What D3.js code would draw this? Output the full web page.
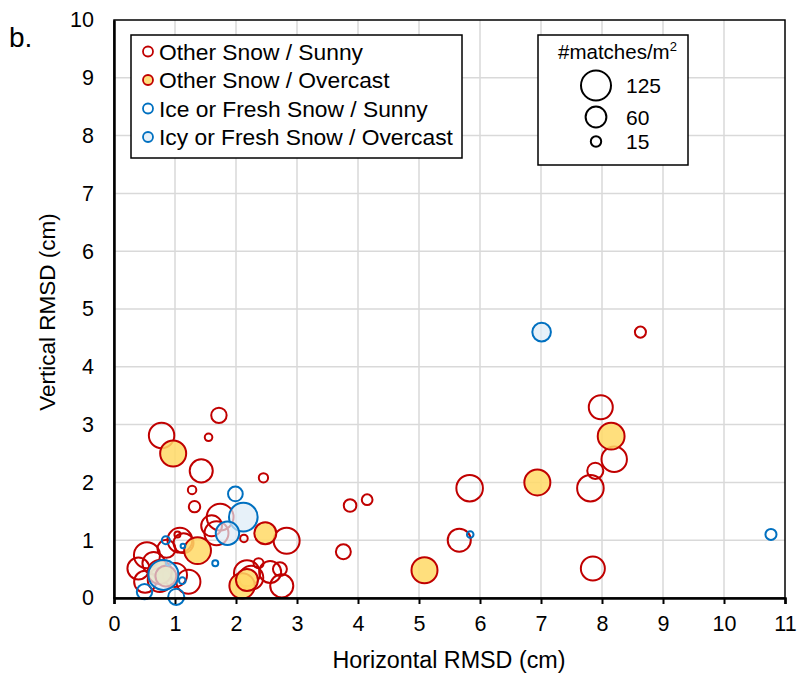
<!DOCTYPE html>
<html>
<head>
<meta charset="utf-8">
<script src="https://cdn.jsdelivr.net/npm/d3@7"></script>
<style>
  body { margin: 0; background: #fff; }
  text { font-family: "Liberation Sans", Arial, sans-serif; }
</style>
</head>
<body>
<script>
// [x, y, matches/m2]
const otherSunny = [
    [8.63, 4.60, 17], [7.98, 3.30, 80], [8.20, 2.40, 90], [7.89, 2.20, 36], [7.81, 1.90, 98],
    [5.83, 1.90, 98], [4.15, 1.70, 16], [3.87, 1.60, 22], [5.66, 1.00, 74], [3.76, 0.80, 31],
    [7.85, 0.51, 80], [1.72, 3.16, 33], [1.55, 2.78, 8], [0.78, 2.81, 90], [1.43, 2.20, 74],
    [2.45, 2.08, 12], [1.28, 1.87, 10], [1.32, 1.58, 18], [1.74, 1.40, 100], [1.68, 1.12, 80],
    [1.60, 1.25, 60], [2.13, 1.03, 8], [2.83, 0.99, 94], [1.04, 1.10, 5], [1.08, 1.00, 85],
    [0.86, 0.85, 45], [0.54, 0.74, 94], [0.40, 0.51, 67], [0.51, 0.28, 67], [0.75, 0.31, 80],
    [1.00, 0.40, 80], [1.22, 0.28, 80], [0.65, 0.60, 70], [2.18, 0.43, 94], [2.37, 0.60, 14],
    [2.56, 0.45, 67], [2.72, 0.50, 27], [2.75, 0.21, 74], [2.25, 0.35, 80], [1.14, 0.95, 55]
];
const otherOvercast = [
    [8.15, 2.80, 100], [6.94, 2.00, 94], [5.09, 0.48, 94], [0.97, 2.50, 94], [2.48, 1.12, 67],
    [1.37, 0.82, 100], [2.10, 0.21, 90], [2.18, 0.31, 67], [0.75, 0.45, 80], [0.85, 0.38, 60]
];
const iceSunny = [
    [10.77, 1.10, 17], [5.84, 1.10, 6], [1.99, 1.80, 30], [0.85, 1.00, 9], [1.13, 0.90, 3],
    [1.66, 0.60, 5], [1.12, 0.30, 6], [0.50, 0.11, 33], [1.02, 0.02, 36], [0.89, 0.60, 3]
];
const icyOvercast = [
    [7.01, 4.60, 48], [2.12, 1.40, 114], [1.86, 1.12, 76], [0.81, 0.40, 125]
];

const seriesNames = ["Other Snow / Sunny", "Other Snow / Overcast", "Ice or Fresh Snow / Sunny", "Icy or Fresh Snow / Overcast"];
const xTicks = [0, 1, 2, 3, 4, 5, 6, 7, 8, 9, 10, 11];
const yTicks = [0, 1, 2, 3, 4, 5, 6, 7, 8, 9, 10];
const sizeLegend = [125, 60, 15];

const red = "#C00000", blue = "#0070C0";
const styles = [
    { stroke: red, fill: "none" },
    { stroke: red, fill: "rgba(255,217,102,0.85)" },
    { stroke: blue, fill: "none" },
    { stroke: blue, fill: "rgba(221,235,247,0.7)" }
];

const width = 797, height = 676;
const plotLeft = 114, plotRight = 785, plotTop = 20, plotBottom = 598;

const svg = d3.select("body").append("svg")
    .attr("width", width)
    .attr("height", height);

const xScale = d3.scaleLinear().domain([0, 11]).range([plotLeft, plotRight]);
const yScale = d3.scaleLinear().domain([0, 10]).range([plotBottom, plotTop]);
const rScale = d3.scaleSqrt().domain([0, 125]).range([0, 15]);

// grid
svg.append("g").selectAll("line")
    .data(xTicks.slice(1, -1))
    .join("line")
    .attr("x1", d => xScale(d)).attr("x2", d => xScale(d))
    .attr("y1", plotTop).attr("y2", plotBottom)
    .attr("stroke", "#d9d9d9").attr("stroke-width", 1.5);

svg.append("g").selectAll("line")
    .data(yTicks.slice(1, -1))
    .join("line")
    .attr("x1", plotLeft).attr("x2", plotRight)
    .attr("y1", d => yScale(d)).attr("y2", d => yScale(d))
    .attr("stroke", "#d9d9d9").attr("stroke-width", 1.5);

// bubbles
[otherSunny, otherOvercast, iceSunny, icyOvercast].forEach((data, i) => {
    const sorted = data.slice().sort((a, b) => b[2] - a[2]);
    svg.append("g").selectAll("circle")
        .data(sorted)
        .join("circle")
        .attr("cx", d => xScale(d[0]))
        .attr("cy", d => yScale(d[1]))
        .attr("r", d => rScale(d[2]))
        .attr("fill", styles[i].fill)
        .attr("stroke", styles[i].stroke)
        .attr("stroke-width", 2);
});

// frame
svg.append("rect")
    .attr("x", plotLeft).attr("y", plotTop)
    .attr("width", plotRight - plotLeft).attr("height", plotBottom - plotTop)
    .attr("fill", "none").attr("stroke", "#000").attr("stroke-width", 1.5);

const xAxis = d3.axisBottom(xScale).tickValues(xTicks).tickSize(6).tickPadding(12);
svg.append("g")
    .attr("transform", "translate(0," + plotBottom + ")")
    .call(xAxis)
    .call(g => g.select(".domain").attr("stroke-width", 2.5))
    .call(g => g.selectAll(".tick line").attr("stroke-width", 2))
    .call(g => g.selectAll("text").attr("font-size", 21.5).attr("fill", "#000")
        .attr("font-family", "Liberation Sans, Arial, sans-serif"));

const yAxis = d3.axisLeft(yScale).tickValues(yTicks).tickSize(0).tickPadding(20);
svg.append("g")
    .attr("transform", "translate(" + plotLeft + ",0)")
    .call(yAxis)
    .call(g => g.select(".domain").attr("stroke-width", 2.5))
    .call(g => g.selectAll("text").attr("font-size", 21.5).attr("fill", "#000")
        .attr("font-family", "Liberation Sans, Arial, sans-serif"));

svg.append("text")
    .attr("x", 449)
    .attr("y", 668)
    .attr("text-anchor", "middle")
    .attr("font-size", 23.3)
    .text("Horizontal RMSD (cm)");

svg.append("text")
    .attr("transform", "translate(55,312) rotate(-90)")
    .attr("text-anchor", "middle")
    .attr("font-size", 22.5)
    .text("Vertical RMSD (cm)");

svg.append("text")
    .attr("x", 9).attr("y", 47)
    .attr("font-size", 28)
    .text("b.");

// series legend
const leg = svg.append("g");
leg.append("rect")
    .attr("x", 131).attr("y", 35).attr("width", 331).attr("height", 123)
    .attr("fill", "#fff").attr("stroke", "#000").attr("stroke-width", 1.5);

const items = leg.selectAll("g.item")
    .data(seriesNames)
    .join("g")
    .attr("class", "item")
    .attr("transform", (d, i) => "translate(148," + (51.5 + i * 28.5) + ")");

items.append("circle")
    .attr("r", 5)
    .attr("fill", (d, i) => styles[i].fill === "none" ? "#fff" : styles[i].fill)
    .attr("stroke", (d, i) => styles[i].stroke)
    .attr("stroke-width", 1.8);

items.append("text")
    .attr("x", 11).attr("y", 8)
    .attr("font-size", 22.8)
    .text(d => d);

// size legend
const sl = svg.append("g");
sl.append("rect")
    .attr("x", 538).attr("y", 35).attr("width", 150).attr("height", 130)
    .attr("fill", "#fff").attr("stroke", "#000").attr("stroke-width", 1.5);

const sTitle = sl.append("text")
    .attr("x", 558).attr("y", 59)
    .attr("font-family", "Lato, sans-serif")
    .attr("font-size", 20.5);
sTitle.append("tspan").text("#matches/m");
sTitle.append("tspan").attr("dy", -8).attr("font-size", 13).text("2");

const sizeY = [85.5, 117, 141.5];
sl.selectAll("circle")
    .data(sizeLegend)
    .join("circle")
    .attr("cx", 596)
    .attr("cy", (d, i) => sizeY[i])
    .attr("r", d => rScale(d))
    .attr("fill", "none")
    .attr("stroke", "#000")
    .attr("stroke-width", 2);

sl.selectAll("text.lab")
    .data(sizeLegend)
    .join("text")
    .attr("class", "lab")
    .attr("x", 626)
    .attr("y", (d, i) => sizeY[i] + 7.5)
    .attr("font-family", "Lato, sans-serif")
    .attr("font-size", 21)
    .text(d => d);
</script>
</body>
</html>
